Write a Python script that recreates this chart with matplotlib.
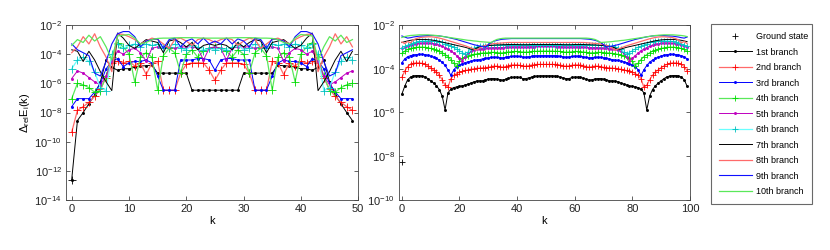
import numpy as np
import matplotlib.pyplot as plt

plt.rcParams['font.family'] = ['Liberation Sans', 'DejaVu Sans']
plt.rcParams['mathtext.fontset'] = 'custom'
plt.rcParams['mathtext.rm'] = 'Liberation Sans'
plt.rcParams['mathtext.it'] = 'Liberation Sans:italic'

labels = ["1st branch", "2nd branch", "3rd branch", "4th branch", "5th branch",
          "6th branch", "7th branch", "8th branch", "9th branch", "10th branch"]

# log10 of the relative error, left panel, k = 0..25 (k = 26..49 mirrors k = 24..1)
left_b1 = [-12.6, -8.55, -8.0, -7.4, -6.8, -5.9, -4.4, -4.9, -5.1, -5.0, -5.0, -4.9, -4.8,
           -4.8, -4.75, -5.3, -5.3, -5.3, -5.3, -5.3, -5.3, -6.47, -6.47, -6.47, -6.47, -6.47]
left_b2 = [-9.35, -7.85, -7.6, -7.3, -6.9, -6.4, -5.6, -4.6, -4.5, -4.6, -4.5, -4.8, -4.6,
           -5.4, -4.6, -4.5, -6.47, -6.47, -6.47, -5.3, -4.7, -4.6, -4.6, -4.6, -5.1, -5.8]
left_b3 = [-7.6, -7.05, -7.05, -7.05, -6.6, -6.0, -5.0, -4.5, -4.3, -4.85, -4.6, -4.5, -4.5,
           -4.4, -4.6, -5.5, -6.47, -6.47, -6.47, -4.4, -4.4, -4.4, -4.3, -4.3, -4.4, -5.1]
left_b4 = [-7.05, -6.0, -6.1, -6.3, -6.6, -6.5, -5.5, -4.2, -3.2, -3.5, -4.0, -5.9, -4.2,
           -3.9, -4.2, -6.47, -4.1, -3.6, -3.9, -5.3, -4.0, -3.7, -4.2, -3.8, -3.6, -3.5]
left_b5 = [-5.67, -5.15, -5.3, -5.6, -5.9, -6.1, -5.5, -4.5, -3.8, -4.0, -3.7, -3.6, -3.9,
           -4.5, -3.6, -3.5, -3.5, -3.5, -3.6, -3.5, -3.5, -3.5, -3.6, -4.4, -3.6, -3.5]
left_b6 = [-5.0, -4.4, -4.2, -4.5, -5.2, -6.3, -6.5, -4.0, -3.3, -3.6, -3.4, -3.3, -3.5,
           -3.3, -3.4, -3.3, -3.6, -3.5, -3.3, -3.6, -3.7, -3.4, -3.5, -3.7, -3.6, -3.7]
left_b7 = [-3.7, -3.8, -4.5, -3.8, -4.4, -5.2, -5.9, -6.5, -2.55, -2.9, -3.4, -3.6, -3.3,
           -3.0, -3.1, -3.2, -3.9, -3.1, -3.0, -3.2, -3.5, -3.2, -3.7, -3.4, -3.3, -3.4]
left_b8 = [-3.9, -3.5, -2.8, -3.3, -2.6, -3.5, -4.2, -5.2, -2.6, -2.65, -2.8, -3.0, -3.3,
           -3.1, -2.9, -3.0, -3.3, -3.6, -3.0, -2.9, -3.1, -3.4, -3.0, -2.9, -3.0, -3.2]
left_b9 = [-3.3, -3.7, -3.9, -4.1, -5.3, -5.5, -4.5, -3.3, -2.6, -2.45, -2.45, -2.8, -3.5,
           -3.1, -3.0, -2.95, -3.6, -3.0, -2.9, -3.5, -3.1, -2.95, -3.3, -2.9, -3.3, -3.1]
left_b10 = [-3.4, -3.0, -3.2, -2.7, -3.1, -2.8, -3.5, -4.4, -2.75, -2.7, -2.65, -2.9, -3.3,
            -3.2, -3.0, -2.92, -2.9, -2.9, -2.88, -2.87, -2.87, -2.87, -2.88, -2.9, -2.9, -2.9]
left_ground = -12.6

# log10 of the relative error, right panel, k = 0..50 (k = 51..99 mirrors k = 49..1)
right_b1 = [-5.16, -4.8, -4.5, -4.38, -4.33, -4.31, -4.31, -4.33, -4.37, -4.45, -4.55, -4.65,
            -4.78, -4.95, -5.25, -5.88, -5.1, -4.93, -4.86, -4.83, -4.8, -4.78, -4.74, -4.7,
            -4.65, -4.6, -4.56, -4.55, -4.55, -4.5, -4.47, -4.45, -4.45, -4.47, -4.5, -4.52,
            -4.48, -4.43, -4.4, -4.38, -4.38, -4.4, -4.45, -4.45, -4.42, -4.38, -4.35, -4.33,
            -4.32, -4.32, -4.32]
right_b2 = [-4.4, -4.1, -3.9, -3.8, -3.75, -3.73, -3.73, -3.75, -3.8, -3.87, -3.95, -4.05,
            -4.15, -4.3, -4.5, -4.75, -4.85, -4.45, -4.3, -4.22, -4.15, -4.12, -4.08, -4.05,
            -4.02, -4.0, -3.98, -3.97, -3.95, -3.95, -3.93, -3.9, -3.88, -3.88, -3.9, -3.92,
            -3.9, -3.86, -3.83, -3.82, -3.82, -3.84, -3.87, -3.88, -3.86, -3.83, -3.81, -3.8,
            -3.8, -3.8, -3.8]
right_b3 = [-3.72, -3.55, -3.45, -3.4, -3.37, -3.35, -3.34, -3.34, -3.35, -3.38, -3.42, -3.47,
            -3.53, -3.6, -3.7, -3.85, -4.05, -4.3, -4.05, -3.9, -3.82, -3.77, -3.72, -3.68,
            -3.65, -3.62, -3.6, -3.58, -3.55, -3.52, -3.5, -3.48, -3.47, -3.47, -3.49, -3.5,
            -3.48, -3.45, -3.43, -3.42, -3.42, -3.44, -3.46, -3.47, -3.45, -3.43, -3.41, -3.4,
            -3.4, -3.4, -3.4]
right_b4 = [-3.3, -3.2, -3.12, -3.07, -3.04, -3.02, -3.01, -3.01, -3.02, -3.04, -3.07, -3.1,
            -3.15, -3.2, -3.27, -3.35, -3.45, -3.58, -3.75, -3.87, -3.65, -3.52, -3.45, -3.4,
            -3.37, -3.34, -3.32, -3.3, -3.28, -3.27, -3.26, -3.25, -3.25, -3.26, -3.27, -3.27,
            -3.25, -3.23, -3.22, -3.21, -3.21, -3.22, -3.23, -3.24, -3.23, -3.21, -3.2, -3.2,
            -3.19, -3.19, -3.19]
right_b5 = [-3.07, -3.0, -2.95, -2.91, -2.88, -2.86, -2.84, -2.83, -2.82, -2.82, -2.83, -2.85,
            -2.88, -2.92, -2.97, -3.03, -3.1, -3.18, -3.28, -3.4, -3.52, -3.63, -3.45, -3.3,
            -3.2, -3.15, -3.12, -3.1, -3.08, -3.06, -3.05, -3.04, -3.03, -3.03, -3.03, -3.03,
            -3.02, -3.01, -3.0, -3.0, -3.0, -3.0, -3.01, -3.01, -3.0, -2.99, -2.99, -2.98,
            -2.98, -2.98, -2.98]
right_b6 = [-3.06, -2.98, -2.92, -2.86, -2.82, -2.78, -2.75, -2.73, -2.72, -2.71, -2.71, -2.72,
            -2.74, -2.77, -2.8, -2.85, -2.9, -2.96, -3.02, -3.1, -3.18, -3.26, -3.32, -3.22,
            -3.12, -3.05, -3.0, -2.97, -2.95, -2.94, -2.93, -2.93, -2.92, -2.92, -2.92, -2.92,
            -2.91, -2.91, -2.9, -2.9, -2.9, -2.9, -2.9, -2.9, -2.9, -2.9, -2.9, -2.9,
            -2.9, -2.9, -2.9]
right_b7 = [-2.8, -2.76, -2.73, -2.7, -2.68, -2.67, -2.66, -2.66, -2.66, -2.67, -2.68, -2.7,
            -2.72, -2.75, -2.78, -2.81, -2.84, -2.87, -2.9, -2.93, -2.96, -2.99, -3.02, -3.06,
            -3.1, -3.13, -3.05, -3.0, -2.97, -2.95, -2.94, -2.93, -2.92, -2.91, -2.91, -2.9,
            -2.9, -2.89, -2.89, -2.89, -2.89, -2.9, -2.9, -2.9, -2.9, -2.89, -2.89, -2.89,
            -2.89, -2.89, -2.89]
right_b8 = [-2.78, -2.85, -2.75, -2.82, -2.68, -2.62, -2.58, -2.56, -2.55, -2.54, -2.54, -2.55,
            -2.57, -2.6, -2.63, -2.67, -2.71, -2.75, -2.79, -2.83, -2.87, -2.91, -2.95, -3.0,
            -3.05, -3.1, -3.15, -3.05, -2.98, -2.93, -2.9, -2.87, -2.85, -2.84, -2.83, -2.82,
            -2.81, -2.8, -2.8, -2.8, -2.8, -2.8, -2.8, -2.8, -2.8, -2.8, -2.8, -2.8,
            -2.8, -2.8, -2.8]
right_b9 = [-2.5, -2.55, -2.6, -2.58, -2.55, -2.53, -2.51, -2.5, -2.49, -2.48, -2.48, -2.48,
            -2.49, -2.5, -2.52, -2.54, -2.57, -2.6, -2.63, -2.66, -2.7, -2.74, -2.78, -2.82,
            -2.86, -2.9, -2.93, -2.96, -2.99, -3.01, -2.9, -2.8, -2.74, -2.7, -2.67, -2.65,
            -2.64, -2.63, -2.62, -2.62, -2.62, -2.62, -2.62, -2.62, -2.62, -2.62, -2.62, -2.62,
            -2.62, -2.62, -2.62]
right_b10 = [-2.57, -2.53, -2.5, -2.48, -2.47, -2.46, -2.45, -2.45, -2.45, -2.45, -2.46, -2.47,
             -2.48, -2.5, -2.52, -2.54, -2.56, -2.58, -2.6, -2.62, -2.64, -2.66, -2.68, -2.7,
             -2.71, -2.73, -2.74, -2.76, -2.77, -2.78, -2.79, -2.8, -2.72, -2.66, -2.63, -2.61,
             -2.6, -2.6, -2.6, -2.6, -2.6, -2.6, -2.6, -2.6, -2.6, -2.6, -2.6, -2.6,
             -2.6, -2.6, -2.6]
right_ground = -8.28

left_branches = [left_b1, left_b2, left_b3, left_b4, left_b5,
                 left_b6, left_b7, left_b8, left_b9, left_b10]
right_branches = [right_b1, right_b2, right_b3, right_b4, right_b5,
                  right_b6, right_b7, right_b8, right_b9, right_b10]

# matlab-like line styles per branch
mark_colors = ['k', 'r', 'b', '#00dd00', 'm', 'c', 'k', 'r', 'b', '#00dd00']
line_colors = ['k', '#ff6a6a', 'b', '#5ae85a', 'm', '#6affff', 'k', '#ff6a6a', '#1010ff', '#5ae85a']
line_widths = [0.7, 0.9, 0.7, 0.9, 0.7, 0.9, 0.7, 0.9, 0.8, 0.9]
markers = ['.', '+', '.', '+', '.', '+', '', '', '', '']


def mirror(half):
    half = np.asarray(half)
    return np.concatenate([half, half[-2:0:-1]])


fig = plt.figure(figsize=(8.3, 2.5), dpi=100)
ax1 = fig.add_axes([0.0795, 0.2, 0.352, 0.70])
ax2 = fig.add_axes([0.4807, 0.2, 0.3506, 0.70])

handles = []
for ax, branches, ground, msize in [(ax1, left_branches, left_ground, 6),
                                     (ax2, right_branches, right_ground, 5)]:
    g, = ax.semilogy([0], [10 ** ground], linestyle='none', marker='+', color='k',
                     markersize=msize, markeredgewidth=0.6, label="Ground state")
    hs = [g]
    for i, half in enumerate(branches):
        y = 10 ** mirror(half)
        k = np.arange(len(y))
        ms = 3 if markers[i] == '.' else msize
        h, = ax.semilogy(k, y, color=line_colors[i], linewidth=line_widths[i],
                         marker=markers[i] if markers[i] else None, markersize=ms,
                         markeredgecolor=mark_colors[i], markerfacecolor=mark_colors[i],
                         markeredgewidth=0.6, label=labels[i])
        hs.append(h)
    handles = hs

    ax.tick_params(direction='in', top=True, right=True, length=3, width=0.5,
                   labelsize=8, colors='#222222', pad=3)
    for s in ax.spines.values():
        s.set_linewidth(0.6)
        s.set_color('#444444')
    ax.set_xlabel("k", fontsize=8, labelpad=1)

ax1.set_xlim(-1, 50)
ax1.set_ylim(1e-14, 1e-2)
ax1.set_xticks([0, 10, 20, 30, 40, 50])
ax1.set_yticks([1e-14, 1e-12, 1e-10, 1e-8, 1e-6, 1e-4, 1e-2])
ax1.minorticks_off()
ax1.set_ylabel(r"$\Delta_{\rm rel}\mathrm{E}_{\rm i}\mathrm{(k)}$", fontsize=8, labelpad=2)

ax2.set_xlim(-1, 100)
ax2.set_ylim(1e-10, 1e-2)
ax2.set_xticks([0, 20, 40, 60, 80, 100])
ax2.set_yticks([1e-10, 1e-8, 1e-6, 1e-4, 1e-2])
ax2.minorticks_off()

leg = ax2.legend(handles=handles, loc='upper left', bbox_to_anchor=(1.072, 0.0, 0.347, 1.006),
                 mode='expand', fontsize=6.5, frameon=True, fancybox=False, borderaxespad=0,
                 labelspacing=0.72, handlelength=3.6, handletextpad=0.5, borderpad=0.9)
leg.get_frame().set_edgecolor('#444444')
leg.get_frame().set_linewidth(0.8)

plt.savefig("out.png", dpi=100)
